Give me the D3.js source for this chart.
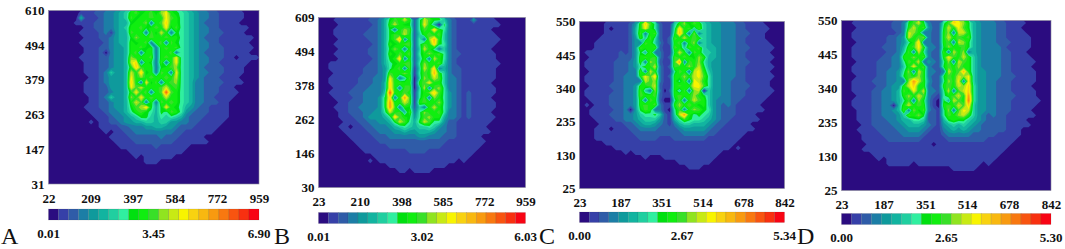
<!DOCTYPE html>
<html>
<head>
<meta charset="utf-8">
<script src="https://cdn.jsdelivr.net/npm/d3@7"></script>
<style>
  html, body { margin: 0; padding: 0; background: #fff; }
  svg { display: block; }
  .num { font-family: "Liberation Serif", serif; font-weight: bold; font-size: 13px; fill: #111; }
  .tag { font-family: "Liberation Serif", serif; font-size: 24px; fill: #111; }
  .field { filter: blur(0.55px); }
  .tick text { font-family: "Liberation Serif", serif; font-weight: bold; font-size: 13px; fill: #111; }
</style>
</head>
<body>
<div id="app"></div>
<script>
// colour steps of the legend, low to high
const levelColors = ["#2b0c80", "#3640a8", "#2f5ca8", "#1c7ea6", "#0f9a9c", "#12b4a0", "#20cfa0", "#30efa0",
  "#00e010", "#10ee10", "#38e028", "#90e420", "#c8ea14", "#f8f400", "#f8d210", "#f8b810",
  "#f89a10", "#f87810", "#f85410", "#f83010", "#f80414"];

const panelTags = ["A", "B", "C", "D"];

const xTicksA = [22, 209, 397, 584, 772, 959];
const yTicksA = [31, 147, 263, 379, 494, 610];
const legendA = [0.01, 3.45, 6.90];

const xTicksB = [23, 210, 398, 585, 772, 959];
const yTicksB = [30, 146, 262, 378, 494, 609];
const legendB = [0.01, 3.02, 6.03];

const xTicksC = [23, 187, 351, 514, 678, 842];
const yTicksC = [25, 130, 235, 340, 445, 550];
const legendC = [0.00, 2.67, 5.34];

const xTicksD = [23, 187, 351, 514, 678, 842];
const yTicksD = [25, 130, 235, 340, 445, 550];
const legendD = [0.00, 2.65, 5.30];

// legend level per grid point (0-9 then a=10 ... k=20), top row first
const gridA = [
  "000000 111223 34569a 89a8bd 987654 332211 111000",
  "000000 511123 3456a8 99a99d a97654 332211 111000",
  "000001 111223 345589 9b39ae 997654 322211 110000",
  "000000 011223 345699 a89a9d 8a7654 332211 111100",
  "000000 111123 1455a9 93a8c9 387654 332221 111000",
  "000000 011122 34558b 99a99a 997654 322211 111110",
  "000000 111112 345598 9a39a3 a87654 332211 111100",
  "000000 011122 344599 a8939a 9a7654 332221 111110",
  "000000 011120 34459a 399399 a37654 322221 111100",
  "000000 111122 3445b9 99a39a 9d7654 332221 101111",
  "000000 011122 3445ce 3983a3 9d7654 332211 111100",
  "000000 011122 34459e a99389 ab7654 322221 111000",
  "000000 011123 6445c9 e893a9 3d7654 332221 111000",
  "000000 001123 4445d9 b9a99a 9c7654 322211 110000",
  "000000 011123 4445e9 3d8a39 ab7653 322221 111000",
  "000000 011122 4445da c999ac 9a7653 322211 100000",
  "000000 011122 34459d 9a39ai a97653 322211 110000",
  "000000 001123 6445b9 d9a99c 997653 322111 100000",
  "000000 001122 34459c a393a9 a97653 322211 000000",
  "000000 011122 34458a be858d 987543 221111 000000",
  "000000 001112 334579 a87587 a97432 221111 000000",
  "000000 000111 233456 886576 765322 211111 000000",
  "000000 001011 223445 566566 443322 111110 000000",
  "000000 000011 112233 344554 432221 111100 000000",
  "000000 000001 011223 333333 322111 111000 000000",
  "000000 000000 111122 222232 221111 100000 000000",
  "000000 000000 011112 222222 211111 110000 000000",
  "000000 000000 001111 111211 111100 000000 000000",
  "000000 000000 000011 111111 111000 000000 000000",
  "000000 000000 000001 011111 100000 000000 000000",
  "000000 000000 000000 011100 000000 000000 000000",
  "000000 000000 000000 000000 000000 000000 000000",
  "000000 000000 000000 000000 000000 000000 000000",
  "000000 000000 000000 000000 000000 000000 000000",
  "000000 000000 000000 000000 000000 000000 000000"
];

const gridB = [
  "000111 111122 358a9c 927ca8 863211 141111 000000",
  "000011 111112 359c98 827d95 083211 111111 100000",
  "000111 111122 35839b a27a9e 973211 111110 000000",
  "000111 111222 358a9c 9269a9 a63211 111111 000000",
  "000011 111122 358af3 9273bf 963211 111111 100000",
  "000111 111112 35989a a27a9e 873211 111111 000000",
  "000011 111122 358b93 926c97 363211 111110 000000",
  "000111 111122 3598a9 a279b9 a73221 111111 000000",
  "000011 111112 3589e3 92693c 973211 111111 000000",
  "001111 111122 35789a a27b99 a63211 111111 100000",
  "001111 111222 3479a3 a16c9e 353221 111111 000000",
  "000111 111222 34a99b 917a9f 963221 111111 000000",
  "001111 112223 34d936 a06b9c a63321 111111 000000",
  "001111 112223 35e9a9 909ad9 963321 111110 000000",
  "000111 122233 35e93a a06c3a b73321 111111 000000",
  "001111 222333 36i99a 9179be a74321 211111 000000",
  "000111 122333 48e39g a17a3b 974321 211110 000000",
  "000011 222333 48g99c a19a99 b74321 211111 000000",
  "000111 223333 48ga39 82639c 974321 211111 000000",
  "000011 222334 47c9a5 a37b99 a73321 211110 000000",
  "000011 122344 457ea9 847ab9 953321 211111 000000",
  "000001 112233 4458ca 758ca7 742211 111110 000000",
  "000011 011223 334567 656676 432211 111100 000000",
  "000001 111122 333445 445554 332211 111110 000000",
  "000000 111112 223333 334433 322211 111000 000000",
  "000000 011111 222222 222222 221111 111100 000000",
  "000000 001111 112222 222222 211111 111000 000000",
  "000000 000111 111111 222211 111111 110000 000000",
  "000000 000001 111111 111111 111111 100000 000000",
  "000000 000010 111111 111111 111101 000000 000000",
  "000000 000000 001111 111111 110000 000000 000000",
  "000000 000000 000011 011110 000000 000000 000000",
  "000000 000000 000000 000000 000000 000000 000000",
  "000000 000000 000000 000000 000000 000000 000000",
  "000000 000000 000000 000000 000000 000000 000000"
];

const gridC = [
  "000001 111124 9ea721 169b8a 965443 332211 110000",
  "000001 011125 9d9721 17e9a6 a65443 332211 111000",
  "000001 111125 a39a21 18f93b 365443 332221 110000",
  "000011 111124 96a721 2a9c9a 965443 332211 110000",
  "000111 111124 3a9631 29a39b 365443 332211 111000",
  "000111 111124 a99a21 1a96a9 a65543 332221 111100",
  "011111 112124 85a331 18c93a 966543 332211 111000",
  "001111 112224 9a9a31 2a9a98 b95543 332211 111100",
  "011111 122234 93ba21 1ag3a9 b75443 332221 111000",
  "011111 122234 799c31 2a99b9 c85443 332211 111100",
  "001111 122233 a3c931 17a93c d96443 332211 111000",
  "011111 122333 9dae31 299b9c da7443 332211 111100",
  "011111 122333 3cab31 197a3d c97443 322211 111000",
  "001111 222334 99ac21 19a99d da7443 322221 111000",
  "011111 122334 a63b30 296a3b c06443 322211 111100",
  "011111 222334 a99a21 19a99b 986443 322211 111000",
  "001111 222334 93a920 07a39c a96433 322111 110000",
  "010111 222334 9a9a31 19b9a9 896432 321111 100000",
  "001111 122304 8a9331 07a39b a87432 221111 110000",
  "001111 222334 677862 16cg97 876432 221111 000000",
  "000111 122334 566642 157a87 765432 211111 100000",
  "000011 111223 455432 135665 554322 111110 000000",
  "000111 011122 333322 223444 443221 111111 000000",
  "000111 111112 222222 222333 332211 111100 000000",
  "000111 111111 222211 122222 221111 111000 000000",
  "000001 111111 111111 111111 111111 110000 000000",
  "000000 011111 111111 111111 111111 101000 000000",
  "000000 000101 111111 111111 111110 000000 000000",
  "000000 000000 010001 111111 111100 000000 000000",
  "000000 000000 000000 001111 111000 000000 000000",
  "000000 000000 000000 000011 100000 000000 000000",
  "000000 000000 000000 000000 000000 000000 000000",
  "000000 000000 000000 000000 000000 000000 000000",
  "000000 000000 000000 000000 000000 000000 000000",
  "000000 000000 000000 000000 000000 000000 000000"
];

const gridD = [
  "001111 111122 38ac83 227aed b85433 322111 100000",
  "000111 111122 39c9a4 228c9d a85433 322111 000000",
  "001111 111112 3cb933 229b3c c95433 322111 100000",
  "001111 111223 4c9ab3 229c9a 9a5433 322111 110000",
  "000111 111223 479e33 229a3c b85433 322211 110000",
  "001111 112223 59ad93 328b99 a85433 332111 110000",
  "001111 111223 6a3c73 22a3c9 b35433 332211 100000",
  "001111 112233 99b9a3 229da9 c96433 332211 110000",
  "000111 122233 7a9c34 327b3c a96433 332211 111000",
  "001111 122233 69d9a3 228a9b 996433 332211 110000",
  "001111 122334 7b3c93 323c9a f96443 332211 111000",
  "000111 122334 8a9b93 228a9c bd6443 332221 111000",
  "001111 222334 3bgc94 227b9d 3d6443 322211 111000",
  "001111 122344 9ce993 229a9c be7443 322211 110000",
  "001111 223345 a8d9c3 327c3a ce7443 322211 111000",
  "000111 223345 9b9ca3 2179ac 9g7443 322221 111000",
  "001111 223345 7a3b83 1085ca 9h7443 322211 111100",
  "001111 223305 9c9a93 109a9c ae6443 322211 111000",
  "000111 223345 a3b8a3 217b3a dc6443 322211 110000",
  "000111 223334 6a9b82 217a9b c96432 322111 111000",
  "000111 222334 557762 215898 865432 222111 100000",
  "000011 222233 455543 214565 654322 222111 110000",
  "000111 122223 344432 113454 543322 222111 000000",
  "000011 112222 333321 112333 332222 211111 000000",
  "000011 111222 222211 111222 222221 111110 000000",
  "000001 111111 111111 011111 111111 111100 000000",
  "000011 111111 111111 111111 111111 111000 000000",
  "000000 111111 111111 111111 111111 110000 000000",
  "000000 010111 111111 111111 111111 100000 000000",
  "000000 000111 110111 111111 111101 000000 000000",
  "000000 000000 000000 000011 111000 000000 000000",
  "000000 000000 000000 000000 000000 000000 000000",
  "000000 000000 000000 000000 000000 000000 000000",
  "000000 000000 000000 000000 000000 000000 000000",
  "000000 000000 000000 000000 000000 000000 000000"
];

const width = 1065;
const height = 249;

const svg = d3.select("#app").append("svg").attr("width", width).attr("height", height);

// plot and legend boxes of each panel
const panels = [
  { tag: panelTags[0], grid: gridA, xt: xTicksA, yt: yTicksA, leg: legendA, l: 48.5, r: 259, t: 10.5, b: 184, ct: 209, cb: 220, tagX: 1, xGap: 7 },
  { tag: panelTags[1], grid: gridB, xt: xTicksB, yt: yTicksB, leg: legendB, l: 318.5, r: 525.5, t: 17.5, b: 187.5, ct: 212.5, cb: 223.5, tagX: 274, xGap: 6 },
  { tag: panelTags[2], grid: gridC, xt: xTicksC, yt: yTicksC, leg: legendC, l: 579.5, r: 784.5, t: 21.5, b: 188.5, ct: 212, cb: 222.5, tagX: 539, xGap: 6 },
  { tag: panelTags[3], grid: gridD, xt: xTicksD, yt: yTicksD, leg: legendD, l: 841.5, r: 1051, t: 20.5, b: 190.5, ct: 213.5, cb: 224.5, tagX: 797, xGap: 6 }
];

panels.forEach((p, i) => drawPanel(p, i));

function drawPanel(p, i) {
  const rows = p.grid.map(d => d.replace(/\s/g, ""));
  const nx = rows[0].length;
  const ny = rows.length;
  const values = rows.flatMap(d => Array.from(d, c => parseInt(c, 36)));

  const sx = d3.scaleLinear().domain([0, nx]).range([p.l, p.r]);
  const sy = d3.scaleLinear().domain([0, ny]).range([p.t, p.b]);
  const path = d3.geoPath(d3.geoTransform({
    point(x, y) { this.stream.point(sx(x), sy(y)); }
  }));

  const g = svg.append("g");

  svg.append("clipPath").attr("id", "clip" + i)
    .append("rect")
    .attr("x", p.l).attr("y", p.t)
    .attr("width", p.r - p.l).attr("height", p.b - p.t);

  // FIELD: one filled band per legend level
  const field = g.append("g").attr("clip-path", `url(#clip${i})`).append("g").attr("class", "field");
  field.append("rect")
    .attr("x", p.l - 2).attr("y", p.t - 2)
    .attr("width", p.r - p.l + 4).attr("height", p.b - p.t + 4)
    .attr("fill", levelColors[0]);

  const bands = d3.contours().size([nx, ny]).thresholds(levelColors.slice(1).map((c, k) => k + 0.5))(values);
  field.selectAll("path").data(bands).join("path")
    .attr("d", path)
    .attr("fill", (d, k) => levelColors[k + 1]);

  g.append("rect")
    .attr("x", p.l).attr("y", p.t)
    .attr("width", p.r - p.l).attr("height", p.b - p.t)
    .attr("fill", "none").attr("stroke", "#8a8a9a").attr("stroke-width", 0.6);

  // AXES
  const x = d3.scaleLinear().domain(d3.extent(p.xt)).range([p.l, p.r]);
  const y = d3.scaleLinear().domain(d3.extent(p.yt)).range([p.b, p.t]);

  const xAxis = g.append("g").attr("transform", `translate(0,${p.b + p.xGap})`)
    .call(d3.axisBottom(x).tickValues(p.xt).tickSize(0).tickFormat(d3.format("d")));
  xAxis.select(".domain").remove();

  const yAxis = g.append("g").attr("transform", `translate(${p.l - 1},0)`)
    .call(d3.axisLeft(y).tickValues(p.yt).tickSize(0).tickFormat(d3.format("d")));
  yAxis.select(".domain").remove();

  // LEGEND
  const band = d3.scaleBand().domain(d3.range(levelColors.length)).range([p.l, p.r]);
  g.append("g").selectAll("rect").data(levelColors).join("rect")
    .attr("x", (d, k) => band(k))
    .attr("y", p.ct)
    .attr("width", band.bandwidth())
    .attr("height", p.cb - p.ct)
    .attr("fill", d => d)
    .attr("stroke", "#333")
    .attr("stroke-opacity", 0.3)
    .attr("stroke-width", 0.4);

  const c = d3.scaleLinear().domain([p.leg[0], p.leg[2]]).range([p.l, p.r]);
  g.append("g").selectAll("text").data(p.leg).join("text")
    .attr("class", "num")
    .attr("x", d => c(d))
    .attr("y", p.cb + 17.5)
    .attr("text-anchor", "middle")
    .text(d => d.toFixed(2));

  g.append("text").attr("class", "tag")
    .attr("x", p.tagX).attr("y", 243.5)
    .text(p.tag);
}
</script>
</body>
</html>
